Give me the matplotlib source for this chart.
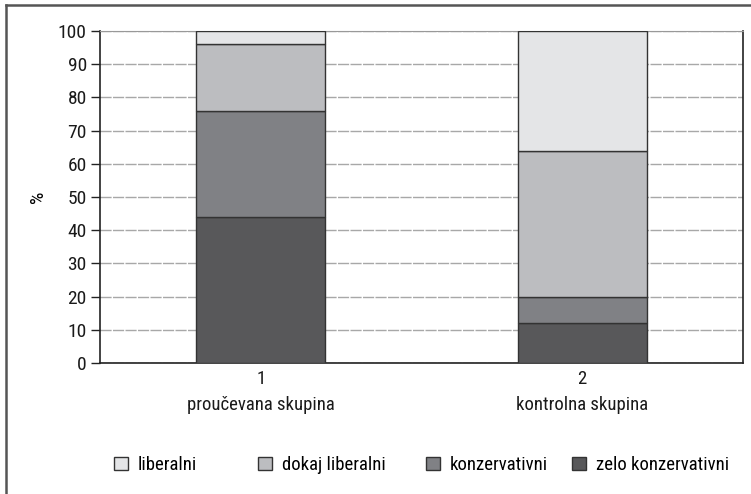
import numpy as np
import matplotlib.pyplot as plt
from matplotlib import font_manager
from matplotlib.lines import Line2D

# pick a narrow font if there is one
names = set(f.name for f in font_manager.fontManager.ttflist)
fam = 'Liberation Sans'
for cand in ['Liberation Sans Narrow', 'Roboto Condensed', 'Open Sans Condensed',
             'DejaVu Sans Condensed', 'Noto Sans Condensed']:
    if cand in names:
        fam = cand
        break
plt.rcParams['font.family'] = [fam, 'DejaVu Sans']

#data
groups = ['1\nproučevana skupina', '2\nkontrolna skupina']
series = ['liberalni', 'dokaj liberalni', 'konzervativni', 'zelo konzervativni']
zelo = [44, 12]
konz = [32, 8]
dokaj = [20, 44]
liberalni = [4, 36]
yticks = [0, 10, 20, 30, 40, 50, 60, 70, 80, 90, 100]

colors = {'liberalni': '#e4e5e7', 'dokaj liberalni': '#bcbdc0',
          'konzervativni': '#808185', 'zelo konzervativni': '#58585a'}

fig = plt.figure(figsize=(7.51, 4.94), dpi=100)
ax = fig.add_axes([100/751, 1-363/494, 643/751, 332/494])

x = np.arange(len(groups))
w = 0.4
bottom = np.zeros(len(groups))
for name, vals in [('zelo konzervativni', zelo), ('konzervativni', konz),
                   ('dokaj liberalni', dokaj), ('liberalni', liberalni)]:
    ax.bar(x, vals, w, bottom=bottom, color=colors[name], edgecolor='#333333',
           linewidth=1, label=name, zorder=3)
    bottom += np.array(vals)

ax.set_xlim(-0.5, 1.5)
ax.set_ylim(0, 100)
ax.set_yticks(yticks)
ax.set_xticks(x)
ax.set_xticklabels(groups, fontsize=13.5, linespacing=1.55, color='#1a1a1a')
ax.tick_params(axis='y', labelsize=14, labelcolor='#1a1a1a', length=6.5, width=1,
               color='#222222', pad=3)
ax.tick_params(axis='x', length=0, pad=5)
ax.yaxis.grid(True, color='#a8a8a8', linestyle=(0, (8, 1)), linewidth=1, zorder=0)
ax.set_axisbelow(True)
ax.spines['top'].set_color('#999999')
for s in ['left', 'right', 'bottom']:
    ax.spines[s].set_color('#222222')
    ax.spines[s].set_linewidth(1.2)

fig.text(38/751, 1-197/494, '%', rotation=90, fontsize=14, ha='center', va='center')

# legend, one entry per box so each sits where the reference has it
h, l = ax.get_legend_handles_labels()
order = [3, 2, 1, 0]
leg_x = [114, 258, 426, 572]
for i, lx in zip(order, leg_x):
    fig.legend([h[i]], [l[i]], loc='center left',
               bbox_to_anchor=(lx/751, 1-465/494), frameon=False,
               fontsize=13.5, handlelength=0.72, handleheight=0.72,
               handletextpad=0.55, borderpad=0, borderaxespad=0)

# outer frame, only left and top edges show
fig.add_artist(Line2D([6/751, 6/751], [0, 1-5/494], color='#555555', linewidth=1.8))
fig.add_artist(Line2D([6/751, 1], [1-5/494, 1-5/494], color='#555555', linewidth=1.8))

fig.savefig('out.png', dpi=100)
